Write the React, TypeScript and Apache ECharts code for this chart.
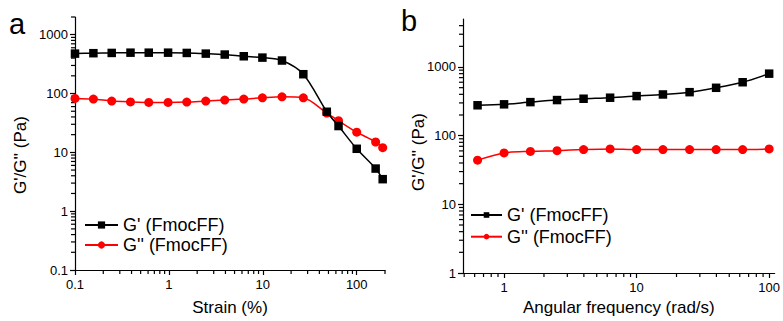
import React, { useEffect, useRef } from "react";
import * as echarts from "echarts";

// Panel a: strain sweep
const STRAIN = [0.1, 0.157, 0.246, 0.39, 0.61, 0.98, 1.55, 2.47, 3.93, 6.27, 9.9, 16, 27, 48, 64, 100, 159, 189];
const G1_STRAIN = [477, 485, 490, 495, 495, 495, 490, 477, 460, 430, 408, 364, 213, 49, 28, 11.5, 5.3, 3.5];
const G2_STRAIN = [82.5, 80.4, 74.5, 72, 70.5, 70.5, 71.5, 74.5, 77.4, 80.4, 84.7, 88, 84.7, 46.5, 34.5, 22, 15, 12];

// Panel b: frequency sweep
const FREQ = [0.631, 1, 1.58, 2.51, 3.98, 6.31, 10, 15.8, 25.1, 39.8, 63.1, 100];
const G1_FREQ = [277, 286, 308, 330, 345, 357, 377, 398, 430, 498, 600, 800];
const G2_FREQ = [44, 56, 59, 60.5, 62.7, 64, 62.7, 62.7, 62.7, 62.7, 62.7, 64];

const NAME_G1 = "G' (FmocFF)";
const NAME_G2 = "G'' (FmocFF)";

// Axis ranges
const A_X_RANGE = [0.1, 200];
const A_Y_RANGE = [0.1, 2000];
const B_X_RANGE = [0.49, 110];
const B_Y_RANGE = [1, 5000];

// Tick values
const A_X_MAJOR = [0.1, 1, 10, 100];
const A_X_MINOR = [0.2, 0.3, 0.4, 0.5, 0.6, 0.7, 0.8, 0.9, 2, 3, 4, 5, 6, 7, 8, 9, 20, 30, 40, 50, 60, 70, 80, 90, 200];
const A_Y_MAJOR = [0.1, 1, 10, 100, 1000];
const A_Y_MINOR = [0.2, 0.3, 0.4, 0.5, 0.6, 0.7, 0.8, 0.9, 2, 3, 4, 5, 6, 7, 8, 9, 20, 30, 40, 50, 60, 70, 80, 90, 200, 300, 400, 500, 600, 700, 800, 900, 2000];
const B_X_MAJOR = [1, 10, 100];
const B_X_MINOR = [0.5, 0.6, 0.7, 0.8, 0.9, 2, 3, 4, 5, 6, 7, 8, 9, 20, 30, 40, 50, 60, 70, 80, 90];
const B_Y_MAJOR = [1, 10, 100, 1000];
const B_Y_MINOR = [2, 3, 4, 5, 6, 7, 8, 9, 20, 30, 40, 50, 60, 70, 80, 90, 200, 300, 400, 500, 600, 700, 800, 900, 2000, 3000, 4000];

const FONT = "'Liberation Sans', Arial, sans-serif";
const RED = "#ff0000";
const BLACK = "#000000";

const GRID_A = { left: 75, top: 17, width: 310, height: 256 };
const GRID_B = { left: 463, top: 19, width: 314, height: 254 };

function majorAxis(gridIndex: number, range: number[], ticks: number[], isX: boolean) {
  return {
    type: "log",
    logBase: 10,
    gridIndex,
    min: range[0],
    max: range[1],
    axisLine: { show: true, onZero: false, lineStyle: { color: BLACK, width: 1.2 } },
    axisTick: { show: true, length: 5, customValues: ticks, lineStyle: { color: BLACK, width: 1.2 } },
    axisLabel: {
      show: true,
      customValues: ticks,
      formatter: (v: number) => String(Number(v.toPrecision(6))),
      color: BLACK,
      fontFamily: FONT,
      fontSize: 13,
      margin: isX ? 8 : 7,
    },
    splitLine: { show: false },
    minorTick: { show: false },
  };
}

// Minor ticks drawn through the axes' own scales (api.coord)
function minorTickSeries(idx: number, xMinor: number[], yMinor: number[], xRange: number[], yRange: number[]) {
  const data: number[][] = [];
  xMinor.forEach((v) => data.push([v, yRange[0], 0]));
  yMinor.forEach((v) => data.push([xRange[0], v, 1]));
  return {
    type: "custom",
    name: "minor-ticks-" + idx,
    xAxisIndex: idx,
    yAxisIndex: idx,
    silent: true,
    clip: false,
    z: 1,
    data,
    renderItem: (_params: any, api: any) => {
      const p = api.coord([api.value(0), api.value(1)]);
      const dir = api.value(2);
      const shape =
        dir === 0
          ? { x1: p[0], y1: p[1], x2: p[0], y2: p[1] + 4 }
          : { x1: p[0] - 4, y1: p[1], x2: p[0], y2: p[1] };
      return { type: "line", shape, style: { stroke: BLACK, lineWidth: 1.2 } };
    },
  };
}

function lineSeries(name: string, xs: number[], ys: number[], idx: number, red: boolean) {
  return {
    type: "line",
    name,
    xAxisIndex: idx,
    yAxisIndex: idx,
    data: xs.map((x, i) => [x, ys[i]]),
    smooth: 0.3,
    symbol: red ? "circle" : "rect",
    symbolSize: red ? 9 : 8.5,
    clip: false,
    lineStyle: { color: red ? RED : BLACK, width: 1.5 },
    itemStyle: { color: red ? RED : BLACK },
    z: red ? 3 : 4,
  };
}

export default function App() {
  const ref = useRef<HTMLDivElement>(null);
  useEffect(() => {
    if (!ref.current) return;
    const chart = echarts.init(ref.current, null, { renderer: "svg" });
    chart.setOption({
      animation: false,
      backgroundColor: "#ffffff",
      textStyle: { fontFamily: FONT },
      grid: [GRID_A, GRID_B],
      xAxis: [
        {
          ...majorAxis(0, A_X_RANGE, A_X_MAJOR, true),
          name: "Strain (%)",
          nameLocation: "middle",
          nameGap: 29,
          nameTextStyle: { fontSize: 17, color: BLACK, fontFamily: FONT },
        },
        {
          ...majorAxis(1, B_X_RANGE, B_X_MAJOR, true),
          name: "Angular frequency (rad/s)",
          nameLocation: "middle",
          nameGap: 23,
          nameTextStyle: { fontSize: 17, color: BLACK, fontFamily: FONT },
        },
      ],
      yAxis: [majorAxis(0, A_Y_RANGE, A_Y_MAJOR, false), majorAxis(1, B_Y_RANGE, B_Y_MAJOR, false)],
      legend: [
        {
          data: [NAME_G1, NAME_G2],
          orient: "vertical",
          left: 84,
          top: 216,
          padding: 0,
          itemGap: 2,
          itemWidth: 33,
          itemHeight: 9,
          selectedMode: false,
          textStyle: { fontSize: 18, color: BLACK, fontFamily: FONT, lineHeight: 18 },
        },
        {
          data: [NAME_G1, NAME_G2],
          orient: "vertical",
          left: 470,
          top: 206,
          padding: 0,
          itemGap: 3.7,
          itemWidth: 31,
          itemHeight: 7,
          selectedMode: false,
          textStyle: { fontSize: 18, color: BLACK, fontFamily: FONT, lineHeight: 18 },
        },
      ],
      graphic: [
        { type: "text", left: 9, top: 9, style: { text: "a", fontSize: 29, fontFamily: FONT, fill: BLACK } },
        { type: "text", left: 401, top: 6, style: { text: "b", fontSize: 29, fontFamily: FONT, fill: BLACK } },
        {
          type: "text",
          x: 20,
          y: 155,
          rotation: Math.PI / 2,
          style: { text: "G'/G'' (Pa)", fontSize: 17, fontFamily: FONT, fill: BLACK, align: "center", verticalAlign: "middle" },
        },
        {
          type: "text",
          x: 418,
          y: 152,
          rotation: Math.PI / 2,
          style: { text: "G'/G'' (Pa)", fontSize: 17, fontFamily: FONT, fill: BLACK, align: "center", verticalAlign: "middle" },
        },
      ],
      series: [
        minorTickSeries(0, A_X_MINOR, A_Y_MINOR, A_X_RANGE, A_Y_RANGE),
        minorTickSeries(1, B_X_MINOR, B_Y_MINOR, B_X_RANGE, B_Y_RANGE),
        lineSeries(NAME_G1, STRAIN, G1_STRAIN, 0, false),
        lineSeries(NAME_G2, STRAIN, G2_STRAIN, 0, true),
        lineSeries(NAME_G1, FREQ, G1_FREQ, 1, false),
        lineSeries(NAME_G2, FREQ, G2_FREQ, 1, true),
      ],
    });
    return () => chart.dispose();
  }, []);
  return (
    <div
      ref={ref}
      style={{ position: "fixed", left: 0, top: 0, width: 783, height: 321, background: "#fff" }}
    />
  );
}
